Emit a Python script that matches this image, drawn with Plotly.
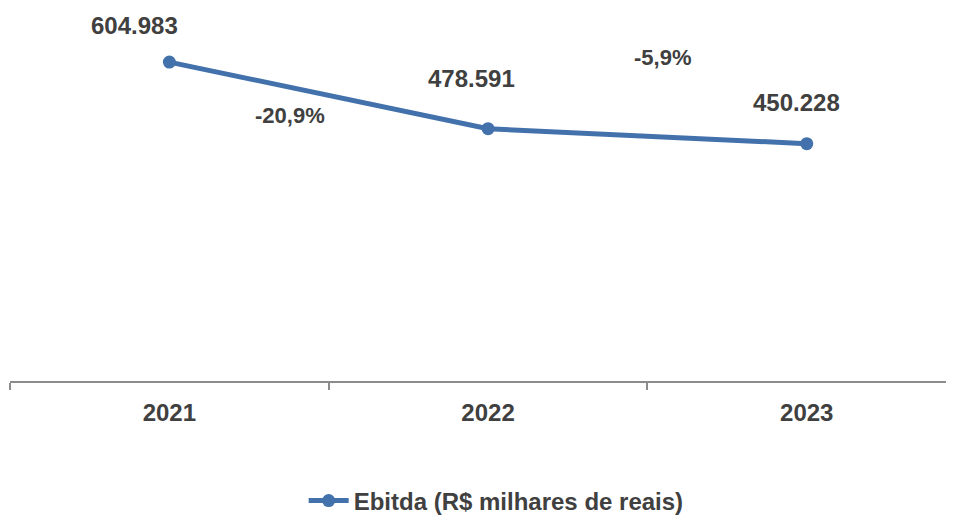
import plotly.graph_objects as go

years = ["2021", "2022", "2023"]
ebitda = [604983, 478591, 450228]
series_name = "Ebitda (R$ milhares de reais)"

def fmt_int(v):
    return f"{v:,}".replace(",", ".")

def fmt_pct(v):
    return f"{v*100:.1f}%".replace(".", ",")

color = "#4371AB"
txt = "#404040"
font_family = "Liberation Sans, Arial, sans-serif"

fig = go.Figure()
fig.add_trace(go.Scatter(
    x=years, y=ebitda, mode="lines+markers", name=series_name,
    line=dict(color=color, width=5),
    marker=dict(color=color, size=13),
    showlegend=True,
))

# value labels
val_shift = [(-35, 37), (-17, 50), (-10, 41)]
for i, (v, (dx, dy)) in enumerate(zip(ebitda, val_shift)):
    fig.add_annotation(x=i, y=v, xref="x", yref="y", text=f"<b>{fmt_int(v)}</b>",
                       showarrow=False, xshift=dx, yshift=dy,
                       font=dict(size=24, color=txt, family=font_family))

# percent change labels
pct_shift = [(-39, -20), (15, 79)]
for i in range(len(ebitda) - 1):
    ch = ebitda[i + 1] / ebitda[i] - 1
    mid = (ebitda[i] + ebitda[i + 1]) / 2
    dx, dy = pct_shift[i]
    fig.add_annotation(x=i + 0.5, y=mid, xref="x", yref="y", text=f"<b>{fmt_pct(ch)}</b>",
                       showarrow=False, xshift=dx, yshift=dy,
                       font=dict(size=22, color=txt, family=font_family))

fig.update_layout(
    width=946, height=509,
    margin=dict(l=2, r=0, t=4, b=136, autoexpand=False),
    paper_bgcolor="white", plot_bgcolor="white",
    font=dict(family=font_family, color=txt),
    xaxis=dict(
        type="category", range=[-0.5, 2.462],
        showline=True, linecolor="#8C8C8C", linewidth=2,
        ticks="outside", tickson="boundaries", ticklen=7, tickcolor="#8C8C8C", tickwidth=2,
        tickfont=dict(size=24, color=txt, family=font_family, weight="bold"),
        ticklabelstandoff=9, automargin=False,
        showgrid=False, zeroline=False,
    ),
    yaxis=dict(range=[0, 700000], visible=False, showgrid=False, zeroline=False, automargin=False),
    legend=dict(orientation="h", x=0.515, xanchor="center", y=-0.386, yanchor="bottom",
                font=dict(size=24, color=txt, family=font_family, weight="bold"),
                itemwidth=40),
)

fig.write_html("out.html")
